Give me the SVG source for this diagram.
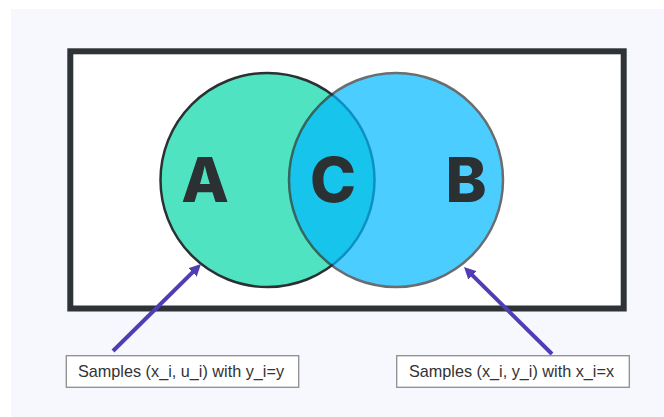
<svg xmlns="http://www.w3.org/2000/svg" width="664" height="417" viewBox="0 0 664 417">
<style>
.big{font-family:Inter,"Liberation Sans",sans-serif;font-weight:800;font-size:62px;fill:#2b3033;text-anchor:middle}
.lbl{font-family:"Liberation Sans",Arial,sans-serif;font-size:17px;fill:#333}
.box{fill:#fff;stroke:#8e8e8e;stroke-width:1.3}
.arr{stroke:#4f3db5;stroke-width:4;fill:none}
</style>
<defs>
<marker id="ah" markerUnits="userSpaceOnUse" markerWidth="12" markerHeight="12" viewBox="0 0 12 12" refX="4" refY="6" orient="auto">
<path d="M0,0 L12,6 L0,12 z" fill="#4f3db5"/>
</marker>
</defs>
<rect x="0" y="0" width="664" height="417" fill="#ffffff"/>
<rect x="11" y="9" width="653" height="408" fill="#f7f8fd"/>
<g id="frame">
<rect x="70.3" y="51.3" width="553.4" height="257.2" fill="#ffffff" stroke="#2d3336" stroke-width="6"/>
</g>
<g id="setA">
<circle cx="267.5" cy="180" r="107" fill="#50e3c2" stroke="#2b3033" stroke-width="2.5"/>
</g>
<g id="setB" opacity="0.7">
<circle cx="396" cy="180" r="107" fill="#00b8ff" stroke="#2b3033" stroke-width="2.5"/>
</g>
<g id="labels">
<text class="big" x="205" y="202">A</text>
<text class="big" x="333" y="202">C</text>
<text class="big" x="466" y="202">B</text>
</g>
<g id="connectors">
<line class="arr" x1="113" y1="351" x2="195.3" y2="269.6" marker-end="url(#ah)"/>
<line class="arr" x1="552" y1="354" x2="469.7" y2="272.6" marker-end="url(#ah)"/>
</g>
<g id="noteA">
<rect class="box" x="66.3" y="355.7" width="232.4" height="31.6"/>
<text class="lbl" x="78" y="377" textLength="206" lengthAdjust="spacingAndGlyphs">Samples (x_i, u_i) with y_i=y</text>
</g>
<g id="noteB">
<rect class="box" x="396.7" y="355.7" width="232.6" height="31.6"/>
<text class="lbl" x="409" y="377" textLength="205" lengthAdjust="spacingAndGlyphs">Samples (x_i, y_i) with x_i=x</text>
</g>
</svg>
